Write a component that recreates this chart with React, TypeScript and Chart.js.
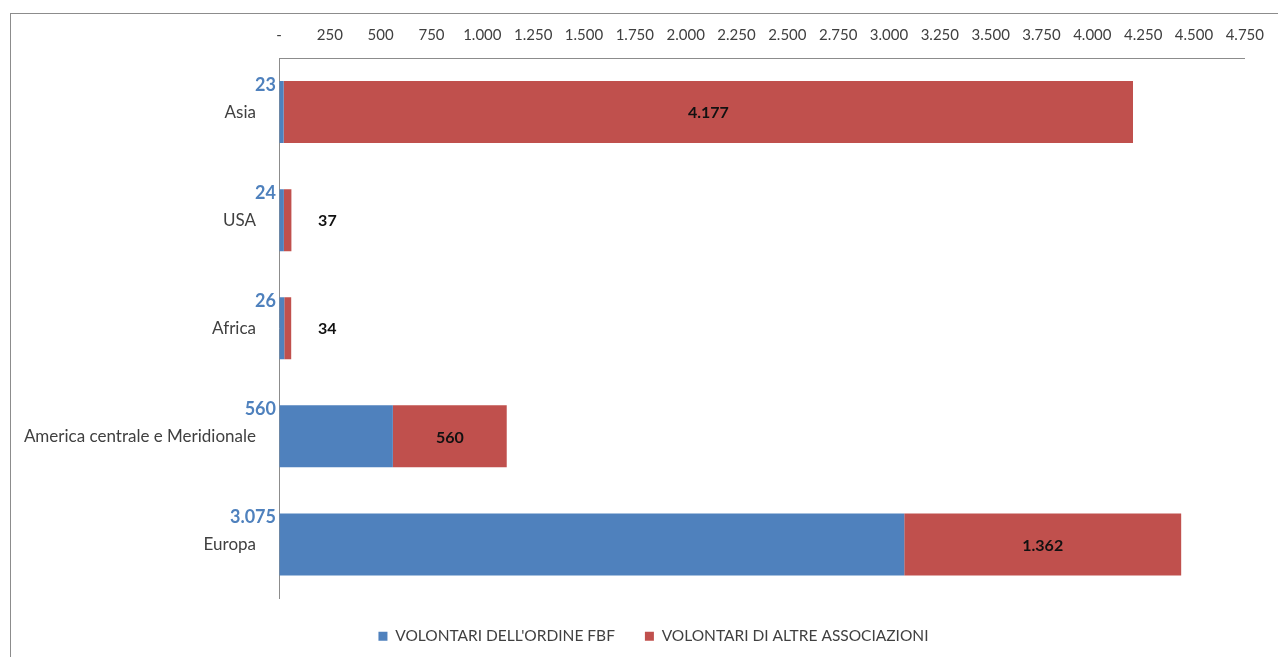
import React, { useEffect, useRef } from "react";
import { Chart, registerables } from "chart.js";

Chart.register(...registerables);

const categories = ["Asia", "USA", "Africa", "America centrale e Meridionale", "Europa"];
const fbfValues = [23, 24, 26, 560, 3075];
const altreValues = [4177, 37, 34, 560, 1362];
const seriesNames = ["VOLONTARI DELL'ORDINE FBF", "VOLONTARI DI ALTRE ASSOCIAZIONI"];
const axisMin = 0;
const axisMax = 4750;
const axisStep = 250;

const BLUE = "#4F81BD";
const RED = "#C0504D";
const FONT = "Lato";

function fmt(n: number): string {
  if (n === 0) return "-";
  return Math.round(n).toString().replace(/\B(?=(\d{3})+(?!\d))/g, ".");
}

const valueLabelsPlugin = {
  id: "valueLabels",
  afterLayout(chart: any) {
    if (chart.legend) {
      chart.legend.left += 31;
      chart.legend.right += 31;
    }
  },
  afterDatasetsDraw(chart: any) {
    const ctx = chart.ctx;
    const area = chart.chartArea;
    ctx.save();
    const m0 = chart.getDatasetMeta(0);
    ctx.font = `bold 18px ${FONT}`;
    ctx.fillStyle = BLUE;
    ctx.textAlign = "right";
    ctx.textBaseline = "middle";
    m0.data.forEach((bar: any, i: number) => {
      ctx.fillText(fmt(fbfValues[i]), area.left - 3, bar.y - 27);
    });
    const m1 = chart.getDatasetMeta(1);
    ctx.font = `bold 16px ${FONT}`;
    ctx.fillStyle = "#111";
    ctx.textAlign = "center";
    m1.data.forEach((bar: any, i: number) => {
      const w = Math.abs(bar.x - bar.base);
      const x = w < 40 ? bar.x + 36 : (bar.x + bar.base) / 2;
      ctx.fillText(fmt(altreValues[i]), x, bar.y + 1);
    });
    ctx.restore();
  },
};

export default function App() {
  const ref = useRef<HTMLCanvasElement | null>(null);
  useEffect(() => {
    if (!ref.current) return;
    const chart = new Chart(ref.current, {
      type: "bar",
      data: {
        labels: categories,
        datasets: [
          {
            label: seriesNames[0],
            data: fbfValues,
            backgroundColor: BLUE,
            borderWidth: 0,
            barPercentage: 0.574,
            categoryPercentage: 1,
          },
          {
            label: seriesNames[1],
            data: altreValues,
            backgroundColor: RED,
            borderWidth: 0,
            barPercentage: 0.574,
            categoryPercentage: 1,
          },
        ],
      },
      options: {
        indexAxis: "y",
        responsive: false,
        animation: false,
        layout: { padding: { left: 0, right: 33, top: 0, bottom: 3 } },
        plugins: {
          legend: {
            display: true,
            position: "bottom",
            labels: {
              boxWidth: 9,
              boxHeight: 9,
              padding: 30,
              color: "#404040",
              font: { family: FONT, size: 15.5 },
            },
          },
          tooltip: { enabled: false },
        },
        scales: {
          x: {
            type: "linear",
            position: "top",
            stacked: true,
            min: axisMin,
            max: axisMax,
            ticks: {
              stepSize: axisStep,
              padding: 14,
              color: "#404040",
              font: { family: FONT, size: 15 },
              maxRotation: 0,
              autoSkip: false,
              callback: (v: any) => fmt(Number(v)),
            },
            grid: { color: "transparent", drawTicks: false },
            border: { display: true, color: "#8C8C8C", width: 1 },
            afterFit: (s: any) => {
              s.height = 58;
            },
          },
          y: {
            type: "category",
            stacked: true,
            ticks: {
              padding: 23,
              color: "#404040",
              font: { family: FONT, size: 17 },
            },
            grid: { color: "transparent", drawTicks: false },
            border: { display: true, color: "#8C8C8C", width: 1 },
            afterFit: (s: any) => {
              s.width = 279;
            },
          },
        },
      },
      plugins: [valueLabelsPlugin],
    });
    return () => chart.destroy();
  }, []);

  return (
    <div
      style={{
        position: "fixed",
        left: 0,
        top: 0,
        width: 1278,
        height: 657,
        overflow: "hidden",
        background: "#fff",
      }}
    >
      <div
        style={{
          position: "absolute",
          left: 10,
          top: 13,
          width: 1400,
          height: 800,
          borderTop: "1px solid #8C8C8C",
          borderLeft: "1px solid #8C8C8C",
        }}
      />
      <canvas
        ref={ref}
        width={1278}
        height={657}
        style={{ position: "absolute", left: 0, top: 0, display: "block" }}
      />
    </div>
  );
}
